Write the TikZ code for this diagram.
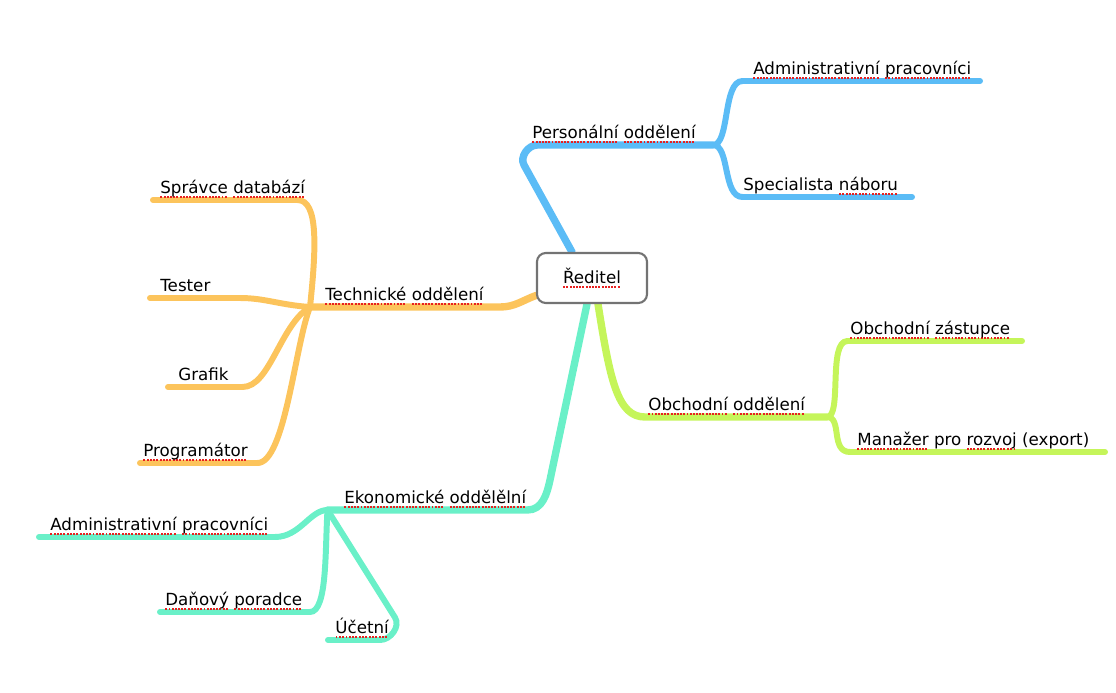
\documentclass[tikz,border=0pt]{standalone}
\usepackage{fontspec}
\setmainfont{DejaVu Sans}
\usetikzlibrary{backgrounds}

\definecolor{modra}{HTML}{5BBCF6}
\definecolor{oranzova}{HTML}{FCC45C}
\definecolor{tyrkys}{HTML}{6AF0C8}
\definecolor{zelena}{HTML}{C5F55A}
\definecolor{chybna}{HTML}{E82020}

% red dotted underline of the spell checker
\newcommand\chyba[1]{\setbox0\hbox{#1}%
  \rlap{\lower2.4pt\hbox to\wd0{\color{chybna}\xleaders\hbox{\rule{1.1pt}{1.1pt}\kern0.7pt}\hfil}}\box0\relax}

\begin{document}
\begin{tikzpicture}[
    font=\fontsize{9.5}{11}\selectfont,
    vedouci/.style={draw=black!55, line width=1.2pt, rounded corners=5pt,
                    fill=white, minimum width=2.2cm, minimum height=1.0cm},
    popis/.style={anchor=base west, inner sep=0pt, text=black},
    vetev/.style={line width=3.4pt, line cap=round},
    hlavni/.style={line width=4.2pt, line cap=round}
  ]
  \useasboundingbox (0,0) rectangle (22.32,-13.86);

  \node[vedouci] (reditel) at (11.84,-5.56) {\chyba{Ředitel}};

  % junctions and free ends
  \coordinate (jp) at (14.26,-2.9);
  \coordinate (jt) at (6.2,-6.14);
  \coordinate (je) at (6.55,-10.2);
  \coordinate (jo) at (16.54,-8.34);
  \coordinate (k-admin1) at (19.6,-1.62);
  \coordinate (k-nabor) at (18.24,-3.94);
  \coordinate (k-spravce) at (3.06,-4.0);
  \coordinate (k-tester) at (3.0,-5.96);
  \coordinate (k-grafik) at (3.36,-7.74);
  \coordinate (k-program) at (2.8,-9.26);
  \coordinate (k-admin2) at (0.78,-10.74);
  \coordinate (k-danovy) at (3.2,-12.24);
  \coordinate (k-ucetni) at (6.56,-12.8);
  \coordinate (k-zastupce) at (20.44,-6.82);
  \coordinate (k-manazer) at (22.1,-9.04);

  % labels
  \node[popis] (personal) at (10.64,-2.77) {\chyba{Personální} \chyba{oddělení}};
  \node[popis] (admin1) at (15.06,-1.49) {\chyba{Administrativní} \chyba{pracovníci}};
  \node[popis] (nabor) at (14.86,-3.81) {Specialista \chyba{náboru}};
  \node[popis] (technicke) at (6.5,-6.01) {\chyba{Technické} \chyba{oddělení}};
  \node[popis] (spravce) at (3.2,-3.87) {\chyba{Správce} \chyba{databází}};
  \node[popis] (tester) at (3.2,-5.83) {Tester};
  \node[popis] (grafik) at (3.56,-7.61) {Grafik};
  \node[popis] (program) at (2.86,-9.13) {\chyba{Programátor}};
  \node[popis] (ekonom) at (6.88,-10.07) {\chyba{Ekonomické} \chyba{oddělělní}};
  \node[popis] (admin2) at (1.0,-10.61) {\chyba{Administrativní} \chyba{pracovníci}};
  \node[popis] (danovy) at (3.3,-12.11) {\chyba{Daňový} \chyba{poradce}};
  \node[popis] (ucetni) at (6.7,-12.67) {\chyba{Účetní}};
  \node[popis] (obchodni) at (12.96,-8.21) {\chyba{Obchodní} \chyba{oddělení}};
  \node[popis] (zastupce) at (17.0,-6.69) {\chyba{Obchodní} \chyba{zástupce}};
  \node[popis] (manazer) at (17.14,-8.91) {\chyba{Manažer} pro \chyba{rozvoj} (export)};

  \begin{scope}[on background layer]
    % Personální oddělení
    \draw[hlavni, modra] ([xshift=-0.4cm]reditel.north) -- (10.48,-3.3)
      to[out=118,in=180] (10.75,-2.9) -- (jp);
    \draw[vetev, modra] (jp) .. controls (14.6,-2.9) and (14.45,-1.62) .. (14.85,-1.62) -- (k-admin1);
    \draw[vetev, modra] (jp) .. controls (14.6,-2.9) and (14.45,-3.94) .. (14.85,-3.94) -- (k-nabor);
    % Technické oddělení
    \draw[hlavni, oranzova] ([yshift=-0.35cm]reditel.west) to[out=200,in=0] (10.0,-6.14) -- (jt);
    \draw[vetev, oranzova] (jt) .. controls (6.32,-5.0) and (6.38,-4.0) .. (5.95,-4.0) -- (k-spravce);
    \draw[vetev, oranzova] (jt) .. controls (5.6,-6.1) and (5.3,-5.96) .. (4.8,-5.96) -- (k-tester);
    \draw[vetev, oranzova] (jt) .. controls (5.6,-6.5) and (5.4,-7.74) .. (4.85,-7.74) -- (k-grafik);
    \draw[vetev, oranzova] (jt) .. controls (5.9,-6.9) and (5.7,-9.26) .. (5.15,-9.26) -- (k-program);
    % Ekonomické oddělení
    \draw[hlavni, tyrkys] ([xshift=-0.1cm]reditel.south) -- (11.0,-9.6)
      to[out=258,in=0] (10.55,-10.2) -- (je);
    \draw[vetev, tyrkys] (je) .. controls (6.2,-10.2) and (6.0,-10.74) .. (5.5,-10.74) -- (k-admin2);
    \draw[vetev, tyrkys] (je) .. controls (6.5,-11.0) and (6.55,-12.24) .. (6.2,-12.24) -- (k-danovy);
    \draw[vetev, tyrkys] (je) -- (7.9,-12.35) to[out=302,in=0] (7.6,-12.8) -- (k-ucetni);
    % Obchodní oddělení
    \draw[hlavni, zelena] ([xshift=0.12cm]reditel.south) .. controls (12.2,-7.6) and (12.35,-8.34) .. (12.9,-8.34) -- (jo);
    \draw[vetev, zelena] (jo) .. controls (16.85,-8.34) and (16.55,-6.82) .. (16.95,-6.82) -- (k-zastupce);
    \draw[vetev, zelena] (jo) .. controls (16.85,-8.34) and (16.6,-9.04) .. (17.0,-9.04) -- (k-manazer);
  \end{scope}
\end{tikzpicture}
\end{document}
